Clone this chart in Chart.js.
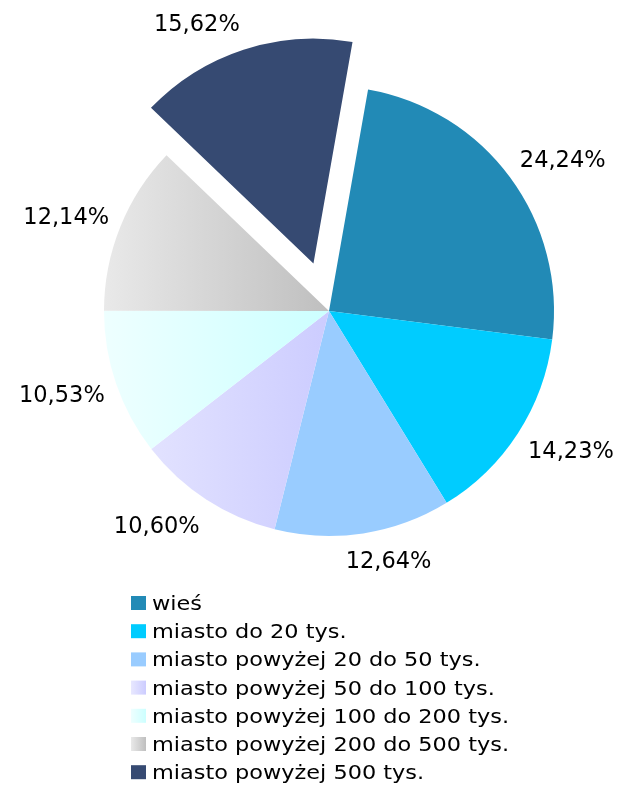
<!DOCTYPE html>
<html>
<head>
<meta charset="utf-8">
<script src="https://cdn.jsdelivr.net/npm/chart.js@4"></script>
<style>
  body { margin: 0; background: #fff; }
</style>
</head>
<body>
<canvas id="pieChart" width="623" height="786"></canvas>
<script>
const categories = [
    "wieś",
    "miasto do 20 tys.",
    "miasto powyżej 20 do 50 tys.",
    "miasto powyżej 50 do 100 tys.",
    "miasto powyżej 100 do 200 tys.",
    "miasto powyżej 200 do 500 tys.",
    "miasto powyżej 500 tys."
];
const shares = [24.24, 14.23, 12.64, 10.60, 10.53, 12.14, 15.62];

// plain colours, or [left, right] for the slices drawn with a gradient
const colors = [
    "#228ab6",
    "#00ccff",
    "#99ccff",
    ["#e8e8ff", "#ccccff"],
    ["#eeffff", "#ccffff"],
    ["#e9e9e9", "#bfbfbf"],
    "#364a72"
];
// how far each slice is pulled out of the pie, px
const explode = [0, 0, 0, 0, 0, 0, 50];
const RADIUS = 225;

function sliceFill(context) {
    const c = colors[context.dataIndex];
    if (!Array.isArray(c)) return c;
    const area = context.chart.chartArea;
    if (!area) return c[1];
    const cx = (area.left + area.right) / 2;
    const g = context.chart.ctx.createLinearGradient(cx - RADIUS, 0, cx, 0);
    g.addColorStop(0, c[0]);
    g.addColorStop(1, c[1]);
    return g;
}

function formatShare(v) {
    return v.toFixed(2).replace(".", ",") + "%";
}

function clamp1(v) {
    return Math.max(-1, Math.min(1, v));
}

// pull slices out without chart.js growing their radius
const explodeSlices = {
    id: "explodeSlices",
    beforeDatasetDraw(chart, args) {
        args.meta.data.forEach((arc, i) => {
            if (!explode[i] || arc._pulled) return;
            const draw = arc.draw;
            arc.draw = function (ctx) {
                const mid = (this.startAngle + this.endAngle) / 2;
                ctx.save();
                ctx.translate(Math.cos(mid) * explode[i], Math.sin(mid) * explode[i]);
                draw.call(this, ctx);
                ctx.restore();
            };
            arc._pulled = true;
        });
    }
};

const outsideLabels = {
    id: "outsideLabels",
    afterDatasetsDraw(chart) {
        const ctx = chart.ctx;
        const meta = chart.getDatasetMeta(0);
        ctx.save();
        ctx.font = "22.5px 'DejaVu Sans'";
        ctx.fillStyle = "#000";
        ctx.textAlign = "left";
        ctx.textBaseline = "alphabetic";
        meta.data.forEach((arc, i) => {
            const p = arc.getProps(["x", "y", "startAngle", "endAngle", "outerRadius"], true);
            const mid = (p.startAngle + p.endAngle) / 2;
            const d = p.outerRadius + explode[i] + 12;
            const ax = p.x + Math.cos(mid) * d;
            const ay = p.y + Math.sin(mid) * d;
            const text = formatShare(shares[i]);
            const w = ctx.measureText(text).width;
            const h = 16;
            const pad = 7;
            const kx = clamp1(Math.cos(mid) * 3.6);
            const ky = clamp1(Math.sin(mid) * 1.25);
            const left = ax - w * (1 - kx) / 2;
            const top = ay - (h + 2 * pad) * (1 - ky) / 2 + pad;
            ctx.fillText(text, left, top + h);
        });
        ctx.restore();
    }
};

const listLegend = {
    id: "listLegend",
    afterDraw(chart) {
        const ctx = chart.ctx;
        const x0 = 131;
        const firstBase = 610;
        const step = 28.2;
        ctx.save();
        ctx.font = "20px 'DejaVu Sans'";
        categories.forEach((name, i) => {
            const base = firstBase + i * step;
            const c = colors[i];
            let fill = c;
            if (Array.isArray(c)) {
                fill = ctx.createLinearGradient(x0, 0, x0 + 15, 0);
                fill.addColorStop(0, c[0]);
                fill.addColorStop(1, c[1]);
            }
            ctx.fillStyle = fill;
            ctx.fillRect(x0, base - 14, 15, 14);
            ctx.fillStyle = "#000";
            ctx.save();
            ctx.translate(152, base);
            ctx.scale(1.12, 1);
            ctx.fillText(name, 0, 0);
            ctx.restore();
        });
        ctx.restore();
    }
};

new Chart(document.getElementById("pieChart"), {
    type: "pie",
    data: {
        labels: categories,
        datasets: [{
            data: shares,
            backgroundColor: sliceFill,
            borderWidth: 0
        }]
    },
    options: {
        responsive: false,
        animation: false,
        rotation: 10,
        radius: RADIUS,
        layout: { padding: { left: 35, right: 0, top: 0, bottom: 164 } },
        plugins: {
            legend: { display: false },
            tooltip: { enabled: false }
        }
    },
    plugins: [explodeSlices, outsideLabels, listLegend]
});
</script>
</body>
</html>
